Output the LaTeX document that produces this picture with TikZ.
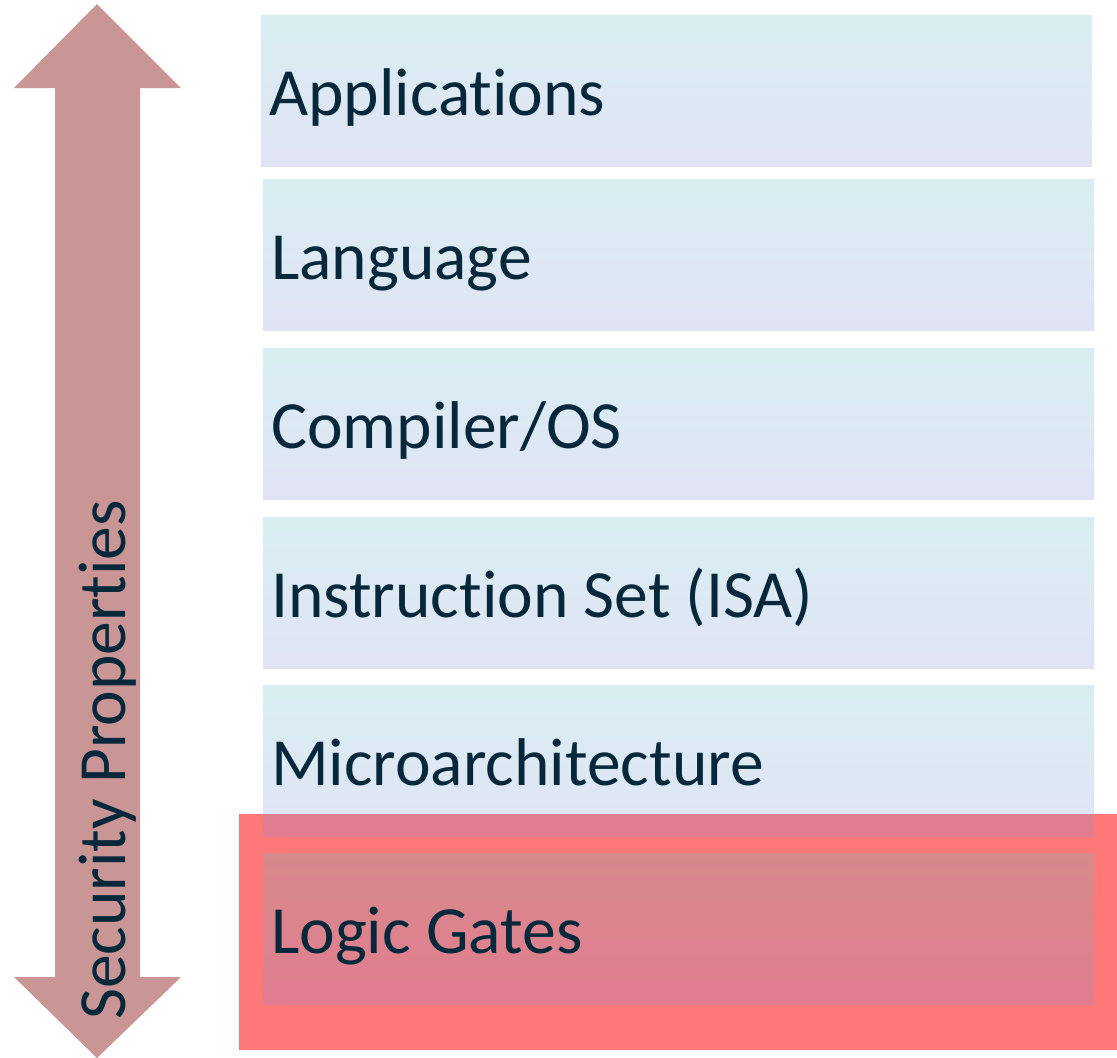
\documentclass[tikz,border=0pt]{standalone}
\usepackage{fontspec}
\setmainfont{Carlito}[RawFeature={-liga;-clig;-calt;-dlig;-rlig}]
\usetikzlibrary{calc}
\definecolor{arrowrose}{RGB}{201,149,149}
\definecolor{hotred}{RGB}{255,120,120}
\definecolor{layertop}{RGB}{100,190,200}
\definecolor{layerbot}{RGB}{136,144,216}
\definecolor{inkblue}{RGB}{6,40,58}
\tikzset{
  layerbox/.style={anchor=north west, minimum width=831pt, minimum height=151pt,
    inner sep=0pt, draw=none, top color=layertop, bottom color=layerbot,
    fill opacity=0.25},
  layertext/.style={anchor=base west, inner sep=0pt, text=inkblue,
    font=\fontsize{67.5}{80}\selectfont},
}
\begin{document}
\begin{tikzpicture}[x=1pt, y=-1pt]
  \useasboundingbox (0,0) rectangle (1117,1058);

  % double-headed block arrow
  \fill[arrowrose] (97,4) -- (181,88) -- (140,88) -- (140,977) -- (181,977)
    -- (97,1058) -- (14,977) -- (55,977) -- (55,88) -- (14,88) -- cycle;
  \node[rotate=90, anchor=base west, inner sep=0pt, text=inkblue,
    font=\fontsize{67.5}{80}\selectfont] (sec) at (125,1020) {Security Properties};

  % highlight behind the lowest layer
  \fill[hotred] (239,814) rectangle (1117,1050);

  % abstraction layers
  \node[layerbox] (app)  at (261,15)  {};
  \node[layerbox] (lang) at (263,179) {};
  \node[layerbox] (comp) at (263,348) {};
  \node[layerbox] (isa)  at (263,517) {};
  \node[layerbox] (uarch) at (263,685) {};
  \node[layerbox] (gates) at (263,853) {};

  \node[layertext] (tapp)   at ($(app.west)+(8,24.5)$)   {Applications};
  \node[layertext] (tlang)  at ($(lang.west)+(8,24.5)$)  {Language};
  \node[layertext] (tcomp)  at ($(comp.west)+(8,24.5)$)  {Compiler/OS};
  \node[layertext] (tisa)   at ($(isa.west)+(8,24.5)$)   {Instruction Set (ISA)};
  \node[layertext] (tuarch) at ($(uarch.west)+(8,24.5)$) {Microarchitecture};
  \node[layertext] (tgates) at ($(gates.west)+(8,24.5)$) {Logic Gates};
\end{tikzpicture}
\end{document}
